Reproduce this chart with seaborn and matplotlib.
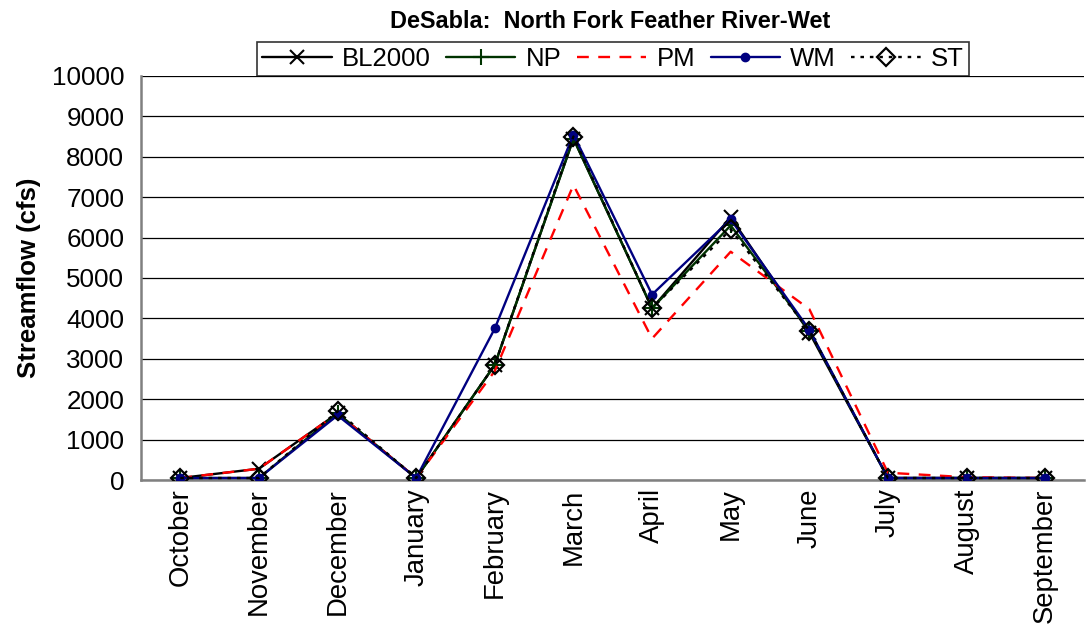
import numpy as np
import pandas as pd
import matplotlib
matplotlib.use("Agg")
import matplotlib.pyplot as plt
import seaborn as sns

months = ["October", "November", "December", "January", "February", "March",
          "April", "May", "June", "July", "August", "September"]

bl2000 = [50, 280, 1650, 50, 2850, 8450, 4250, 6500, 3650, 50, 50, 50]
np_vals = [50, 50, 1650, 50, 2850, 8450, 4250, 6300, 3700, 50, 50, 50]
pm = [50, 280, 1650, 50, 2700, 7300, 3500, 5650, 4230, 180, 70, 50]
wm = [50, 50, 1600, 50, 3750, 8550, 4590, 6450, 3720, 50, 50, 50]
st = [50, 50, 1700, 50, 2850, 8500, 4250, 6200, 3700, 50, 50, 50]

series = {"BL2000": bl2000, "NP": np_vals, "PM": pm, "WM": wm, "ST": st}

styles = {
    "BL2000": dict(color="black", ls="-", marker="x", ms=10, mew=1.5, mfc="black", mec="black"),
    "NP": dict(color="#003300", ls="-", marker="+", ms=12, mew=1.5, mfc="#003300", mec="#003300"),
    "PM": dict(color="#ff0000", ls=(0, (5, 4)), marker=None),
    "WM": dict(color="#000080", ls="-", marker="o", ms=6, mew=1, mfc="#000080", mec="#000080"),
    "ST": dict(color="black", ls=(0, (1.5, 2.5)), marker="D", ms=9, mew=1.6, mfc="none", mec="black"),
}

sns.set_style("white")
plt.rcParams["font.family"] = ["Liberation Sans", "DejaVu Sans"]
plt.rcParams["text.color"] = "black"
plt.rcParams["axes.labelcolor"] = "black"

fig = plt.figure(figsize=(10.87, 6.38), dpi=100)
ax = fig.add_axes([0.1297, 0.2476, 0.868, 0.6334])

x = np.arange(len(months))
for name, vals in series.items():
    st_ = styles[name]
    df = pd.DataFrame({"month": x, "flow": vals})
    sns.lineplot(data=df, x="month", y="flow", ax=ax, color=st_["color"],
                 linestyle=st_["ls"], linewidth=1.7, label=name,
                 marker=st_.get("marker"), markersize=st_.get("ms", 0),
                 markeredgewidth=st_.get("mew", 0),
                 markerfacecolor=st_.get("mfc", "none"),
                 markeredgecolor=st_.get("mec", "none"), zorder=3)

ax.set_xlim(-0.5, 11.5)
ax.set_ylim(0, 10000)
ax.set_yticks(np.arange(0, 10001, 1000))
ax.set_xticks(x)
ax.set_xticklabels(months, rotation=90, fontsize=19.8)
ax.set_xticks(np.arange(-0.5, 12, 1), minor=True)
ax.tick_params(axis="x", which="major", length=0, pad=6, labelcolor="black")
ax.tick_params(axis="x", which="minor", length=8, width=1.2, color="#808080", direction="out")
ax.tick_params(axis="y", length=8, width=1.2, color="#808080", direction="out",
               labelsize=18.7, pad=4, labelcolor="black")
ax.yaxis.grid(True, color="black", linewidth=0.9)
ax.set_axisbelow(True)

for s in ["top", "right"]:
    ax.spines[s].set_visible(False)
for s in ["left", "bottom"]:
    ax.spines[s].set_color("#808080")
    ax.spines[s].set_linewidth(1.8)

ax.set_xlabel("")
ax.set_ylabel("Streamflow (cfs)", fontsize=18.5, fontweight="bold", labelpad=8)

fig.text(0.561, 0.966, "DeSabla:  North Fork Feather River-Wet", ha="center", va="center",
         fontsize=16.9, fontweight="bold")

leg = ax.legend(loc="center", bbox_to_anchor=(0.564, 0.907), bbox_transform=fig.transFigure,
                ncol=5, frameon=True, fontsize=18.5, handlelength=2.7, handletextpad=0.4,
                columnspacing=0.6, borderpad=0.2, fancybox=False, edgecolor="black")
leg.get_frame().set_linewidth(1.2)
for t in leg.get_texts():
    t.set_color("black")

fig.savefig("out.png", dpi=100)
